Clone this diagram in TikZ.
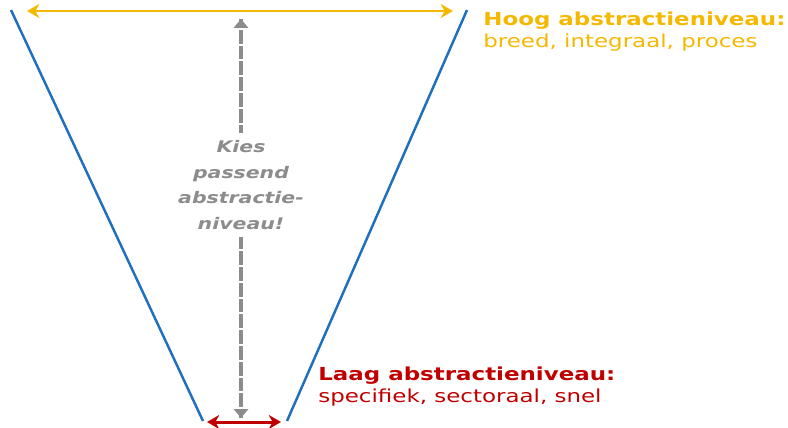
\documentclass[tikz,border=0pt]{standalone}
\usepackage{fontspec}
\setmainfont[FakeStretch=1.28]{DejaVu Sans}
\usepackage{tikz}
\usetikzlibrary{arrows.meta}
\definecolor{trechterblauw}{HTML}{1F6FBF}
\definecolor{hooggeel}{HTML}{F5B800}
\definecolor{laagrood}{HTML}{C00000}
\definecolor{keuzegrijs}{HTML}{8C8C8C}
\tikzset{
  wand/.style={trechterblauw,line width=1.4pt},
  breedte/.style={line width=1.7pt,{Stealth[length=7pt,width=8pt]}-{Stealth[length=7pt,width=8pt]}},
  keuze/.style={keuzegrijs,line width=1.8pt,dash pattern=on 5pt off 4pt,-{Triangle[length=5pt,width=8pt]}},
  uitleg/.style={anchor=north west,align=left,inner sep=0pt,font=\fontsize{10.2}{12.1}\selectfont},
}

\begin{document}
\begin{tikzpicture}[x=0.02cm,y=-0.02cm]
                \useasboundingbox (0,0) rectangle (788,427);
                \coordinate (lboven) at (11,10);
                \coordinate (londer) at (203,421);
                \coordinate (rboven) at (467,10);
                \coordinate (ronder) at (287,421);
                \coordinate (gbegin) at (27,11);
                \coordinate (geind) at (453,11);
                \coordinate (rbegin) at (207,422);
                \coordinate (reind) at (281,422);
                \coordinate (pijltop) at (241,19);
                \coordinate (pijlbodem) at (241,418);
                \draw[wand] (lboven) -- (londer);
                \draw[wand] (rboven) -- (ronder);
                \draw[breedte,hooggeel] (gbegin) -- (geind);
                \draw[breedte,laagrood] (rbegin) -- (reind);
                \draw[keuze] (pijlbodem) -- (pijltop);
                \draw[keuze] (pijltop) -- (pijlbodem);
                \node[fill=white,text=keuzegrijs,align=center,inner sep=4pt,font=\fontsize{9.1}{14.7}\selectfont\bfseries\itshape] (kies) at (241,185) {Kies\\passend\\abstractie-\\niveau!};
                \node[uitleg,text=hooggeel] (hoog) at (483,12) {\textbf{Hoog abstractieniveau:}\\breed, integraal, proces};
                \node[uitleg,text=laagrood] (laag) at (318,367) {\textbf{Laag abstractieniveau:}\\specifiek, sectoraal, snel};
            \end{tikzpicture}
\end{document}
